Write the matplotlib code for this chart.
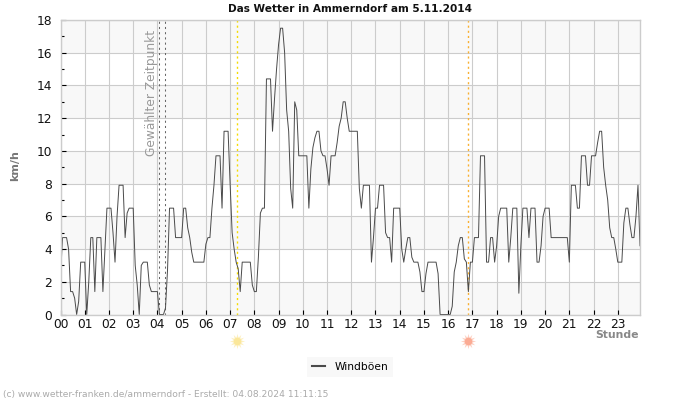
import numpy as np
import matplotlib
matplotlib.use('Agg')
import matplotlib.pyplot as plt

# wind gusts in km/h, one row per hour, 5 minute samples
gusts = [
    2.3, 4.7, 4.7, 4.7, 4.0, 1.4, 1.4, 1.0, 0.0, 0.8, 3.2, 3.2,
    3.2, 0.0, 2.0, 4.7, 4.7, 1.4, 4.7, 4.7, 4.7, 1.4, 3.9, 6.5,
    6.5, 6.5, 5.0, 3.2, 6.0, 7.9, 7.9, 7.9, 4.7, 6.2, 6.5, 6.5,
    6.5, 3.0, 1.8, 0.0, 3.0, 3.2, 3.2, 3.2, 1.8, 1.4, 1.4, 1.4,
    1.4, 0.0, 0.0, 0.0, 0.4, 2.7, 6.5, 6.5, 6.5, 4.7, 4.7, 4.7,
    4.7, 6.5, 6.5, 5.3, 4.7, 3.8, 3.2, 3.2, 3.2, 3.2, 3.2, 3.2,
    4.3, 4.7, 4.7, 6.5, 7.9, 9.7, 9.7, 9.7, 6.5, 11.2, 11.2, 11.2,
    8.0, 5.0, 4.0, 3.2, 2.8, 1.4, 3.2, 3.2, 3.2, 3.2, 3.2, 1.8,
    1.4, 1.4, 3.5, 6.2, 6.5, 6.5, 14.4, 14.4, 14.4, 11.2, 13.2, 15.0,
    16.5, 17.5, 17.5, 16.0, 12.5, 11.2, 7.7, 6.5, 13.0, 12.5, 9.7, 9.7,
    9.7, 9.7, 9.7, 6.5, 8.9, 10.2, 10.8, 11.2, 11.2, 10.0, 9.7, 9.7,
    8.9, 7.9, 9.7, 9.7, 9.7, 10.5, 11.5, 12.0, 13.0, 13.0, 12.0, 11.2,
    11.2, 11.2, 11.2, 11.2, 7.7, 6.5, 7.9, 7.9, 7.9, 7.9, 3.2, 4.7,
    6.5, 6.5, 7.9, 7.9, 7.9, 5.0, 4.7, 4.7, 3.2, 6.5, 6.5, 6.5,
    6.5, 4.0, 3.2, 4.0, 4.7, 4.7, 3.5, 3.2, 3.2, 3.2, 2.6, 1.4,
    1.4, 2.5, 3.2, 3.2, 3.2, 3.2, 3.2, 2.5, 0.0, 0.0, 0.0, 0.0,
    0.0, 0.0, 0.5, 2.6, 3.2, 4.2, 4.7, 4.7, 3.4, 3.2, 1.4, 3.2,
    3.2, 4.7, 4.7, 4.7, 9.7, 9.7, 9.7, 3.2, 3.2, 4.7, 4.7, 3.2,
    4.2, 6.0, 6.5, 6.5, 6.5, 6.5, 3.2, 4.7, 6.5, 6.5, 6.5, 1.3,
    4.2, 6.5, 6.5, 6.5, 4.7, 6.5, 6.5, 6.5, 3.2, 3.2, 4.2, 6.0,
    6.5, 6.5, 6.5, 4.7, 4.7, 4.7, 4.7, 4.7, 4.7, 4.7, 4.7, 4.7,
    3.2, 7.9, 7.9, 7.9, 6.5, 6.5, 9.7, 9.7, 9.7, 7.9, 7.9, 9.7,
    9.7, 9.7, 10.5, 11.2, 11.2, 9.0, 7.9, 7.0, 5.3, 4.7, 4.7, 4.0,
    3.2, 3.2, 3.2, 5.6, 6.5, 6.5, 5.5, 4.7, 4.7, 6.0, 7.9, 4.2,
]
hour_labels = ['%02d' % h for h in range(24)]
selected_hours = [4.07, 4.32]
sunrise = 7.27
sunset = 16.83

hours = np.arange(len(gusts)) / 12

fig = plt.figure(figsize=(7, 4), dpi=100)
ax = fig.add_axes([60.5 / 700, 1 - 314.5 / 400, 579.5 / 700, 294.5 / 400])

# alternating bands behind the grid
for low in range(0, 18, 4):
    ax.axhspan(low, low + 2, color='#f8f8f8', lw=0, zorder=0)
ax.grid(True, color='#cccccc', lw=0.8, zorder=1)
ax.set_axisbelow(True)

line, = ax.plot(hours, gusts, color='#4a4a4a', lw=0.7, label='Windböen', zorder=3)

for h in selected_hours:
    ax.axvline(h, color='#666666', lw=0.75, ls=(0, (2, 3)), zorder=2)
ax.axvline(sunrise, color='#f5dc00', lw=1, ls=(0, (1.5, 2.2)), zorder=2)
ax.axvline(sunset, color='#f9b030', lw=1, ls=(0, (1.5, 2.2)), zorder=2)

ax.text(3.77, 13.54, 'Gewählter Zeitpunkt', rotation=90, ha='center', va='center',
        color='#999999', fontsize=8.8)

# sun symbols under the axis
trans = ax.get_xaxis_transform()
sun_y = -26.5 / 294.5
for h, col, ray in [(sunrise, '#fbe79a', '#fdf0c0'), (sunset, '#fbab94', '#fdd0c2')]:
    ax.plot([h], [sun_y], transform=trans, clip_on=False, marker=(12, 1, 0), ms=11,
            color=ray, mew=0, zorder=4)
    ax.plot([h], [sun_y], transform=trans, clip_on=False, marker='o', ms=5.5,
            color=col, mew=0, zorder=5)

ax.set_xlim(0, 23 + 11 / 12)
ax.set_ylim(0, 18)
ax.set_xticks(range(24))
ax.set_xticklabels(hour_labels)
ax.set_yticks(range(0, 19, 2))
ax.set_yticks(range(1, 18, 2), minor=True)
ax.tick_params(axis='both', which='major', direction='in', length=3.5, width=0.8,
               labelsize=8.8, pad=3, color='black', labelcolor='#111111')
ax.tick_params(axis='x', which='major', pad=2.5)
ax.tick_params(axis='y', which='major', pad=6)
ax.tick_params(axis='y', which='minor', direction='in', length=2, width=0.8, color='black')
for s in ax.spines.values():
    s.set_color('#cccccc')
    s.set_linewidth(1.0)
    s.set_zorder(6)  # covers the line where it sits on zero

fig.text(349.5 / 700, 1 - 9 / 400, 'Das Wetter in Ammerndorf am 5.11.2014', ha='center',
         va='center', fontsize=7.6, fontweight='bold', color='#111111')
fig.text(15 / 700, 1 - 166 / 400, 'km/h', rotation=90, ha='center', va='center',
         fontsize=8, fontweight='bold', color='#777777')
fig.text(639 / 700, 1 - 335 / 400, 'Stunde', ha='right', va='center',
         fontsize=7.8, fontweight='bold', color='#888888')
fig.text(3 / 700, 1 - 394 / 400, '(c) www.wetter-franken.de/ammerndorf - Erstellt: 04.08.2024 11:11:15',
         ha='left', va='center', fontsize=6.6, color='#aaaaaa')

leg = ax.legend(handles=[line], loc='center', bbox_to_anchor=(350 / 700, 1 - 367 / 400),
                bbox_transform=fig.transFigure, frameon=True, fancybox=False, facecolor='#f8f8f8',
                edgecolor='none', framealpha=1, fontsize=7.7, handlelength=1.2, handletextpad=0.9,
                borderpad=0.45)
leg.get_lines()[0].set_linewidth(1.5)

fig.savefig('out.png', dpi=100)
